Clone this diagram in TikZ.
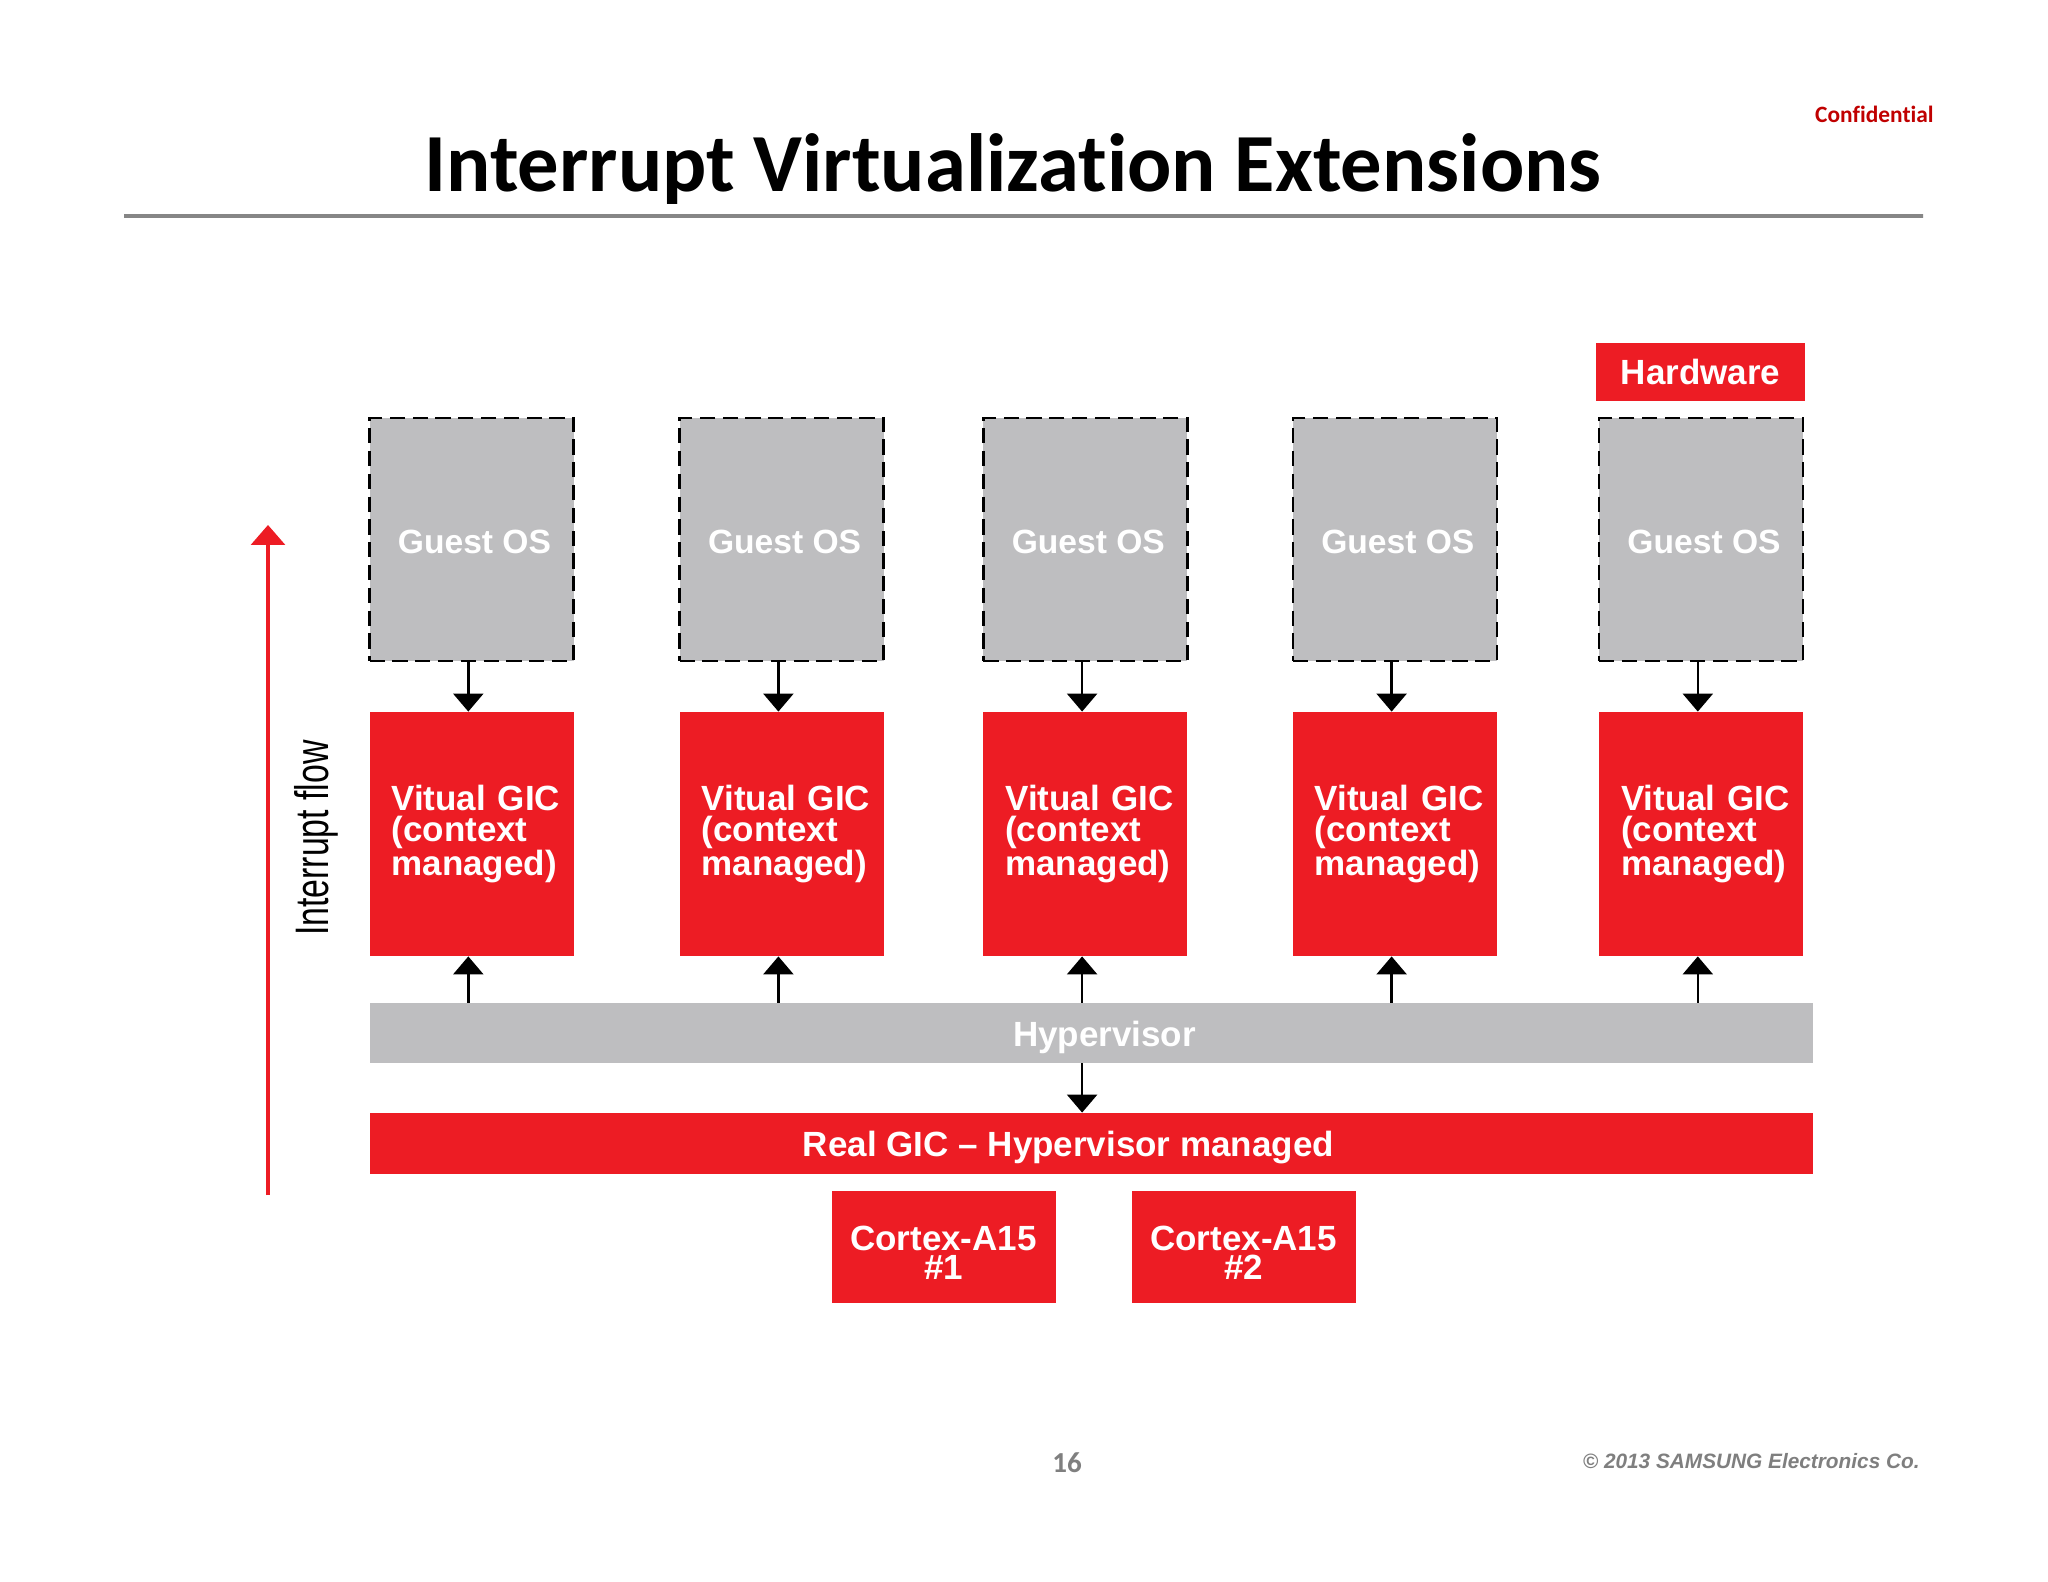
\documentclass[tikz,border=0pt]{standalone}
\usepackage{fontspec}
\usepackage{graphicx}
\setmainfont{Liberation Sans}
\newfontfamily\carlito[Ligatures=NoCommon]{Carlito}
\usetikzlibrary{arrows.meta}
\definecolor{sred}{HTML}{ED1C24}
\definecolor{sgray}{HTML}{BEBEC0}
\definecolor{conf}{HTML}{C00000}
\definecolor{foot}{HTML}{7F7F7F}
\begin{document}
\begin{tikzpicture}[x=0.5pt,y=-0.5pt,
  boxtext/.style={font=\fontsize{17.5}{15.5}\selectfont\bfseries, text=white, inner sep=0pt},
  guest/.style={fill=sgray, draw=black, line width=1.3pt, dash pattern=on 7.6pt off 3.8pt, minimum width=102pt, minimum height=121.5pt, inner sep=0pt},
  vgic/.style={boxtext, fill=sred, minimum width=102pt, minimum height=122pt, align=left, text width=80pt, inner xsep=11pt},
  bar/.style={minimum width=721.5pt, minimum height=30pt, inner sep=0pt},
  cpu/.style={fill=sred, minimum width=112pt, minimum height=56pt, inner sep=0pt},
  cputext/.style={boxtext, align=center, font=\fontsize{17.5}{14.5}\selectfont\bfseries},
  conn/.style={draw=black, line width=1.2pt, -{Triangle[width=15pt,length=9pt]}},
  flowarrow/.style={draw=sred, line width=1.6pt, -{Triangle[width=17pt,length=10pt]}}
]
\useasboundingbox (0,0) rectangle (2048,1582);
\fill[white] (0,0) rectangle (2048,1582);

% header
\node[anchor=base, font=\carlito\bfseries\fontsize{41.3}{50}\selectfont, inner sep=0pt] (title) at (1013,192) {Interrupt Virtualization Extensions};
\node[anchor=base east, font=\carlito\bfseries\fontsize{11.7}{14}\selectfont, text=conf, inner sep=0pt] (conf) at (1934,123) {Confidential};
\shade[left color=gray!95, middle color=gray!60, right color=gray!95] (124,214.5) rectangle (1923,217.5);

% hardware label
\node[boxtext, fill=sred, minimum width=104.5pt, minimum height=29pt] (hw) at (1700.5,372) {Hardware};

% guest OS boxes and virtual GICs
\foreach \i/\x in {1/471.5, 2/781.6, 3/1085.3, 4/1394.8, 5/1701} {
  \node[guest] (g\i) at (\x,539.5) {};
  \node[boxtext, font=\fontsize{16.8}{15}\selectfont\bfseries] (gt\i) at ([xshift=1.5pt,yshift=-1pt]g\i.center) {Guest OS};
  \node[vgic] (v\i) at (\x,834) {\mbox{Vitual GIC}\\(context\\managed)};
}

% hypervisor and real GIC
\node[bar, fill=sgray] (hyp) at (1091.5,1033) {};
\node[boxtext] (hyptext) at ([xshift=6.5pt,yshift=-2pt]hyp.center) {Hypervisor};
\node[bar, fill=sred, minimum height=30.5pt] (gic) at (1091.5,1143.5) {};
\node[boxtext] (gictext) at ([xshift=-11.5pt,yshift=-2pt]gic.center) {Real GIC -- Hypervisor managed};

% cores
\node[cpu] (c1) at (943.5,1247) {};
\node[cputext] (c1t) at ([yshift=-3pt]c1.center) {Cortex-A15\\\#1};
\node[cpu] (c2) at (1243.5,1247) {};
\node[cputext] (c2t) at ([yshift=-3pt]c2.center) {Cortex-A15\\\#2};

% connectors
\foreach \i in {1,...,5} {
  \draw[conn] ([xshift=-1.6pt]g\i.south) -- ([xshift=-1.6pt]v\i.north);
  \draw[conn] ([xshift=-1.6pt]v\i.south |- hyp.north) -- ([xshift=-1.6pt]v\i.south);
}
\draw[conn] ([xshift=-1.6pt]v3.south |- hyp.south) -- ([xshift=-1.6pt]v3.south |- gic.north);

% interrupt flow
\coordinate (fb) at (268,1195);
\coordinate (ft) at (268,525);
\draw[flowarrow] (fb) -- (ft);
\node[rotate=90, font=\fontsize{23.5}{26}\selectfont, inner sep=0pt] (flow) at (316,838) {\scalebox{0.72}[1]{Interrupt flow}};

% footer
\node[font=\carlito\bfseries\fontsize{14.5}{16}\selectfont, text=foot, inner sep=0pt] (page) at (1067,1463) {16};
\node[anchor=base east, font=\bfseries\itshape\fontsize{10.4}{12}\selectfont, text=foot, inner sep=0pt] (copy) at (1920,1468) {\textcopyright{} 2013 SAMSUNG Electronics Co.};
\end{tikzpicture}
\end{document}
